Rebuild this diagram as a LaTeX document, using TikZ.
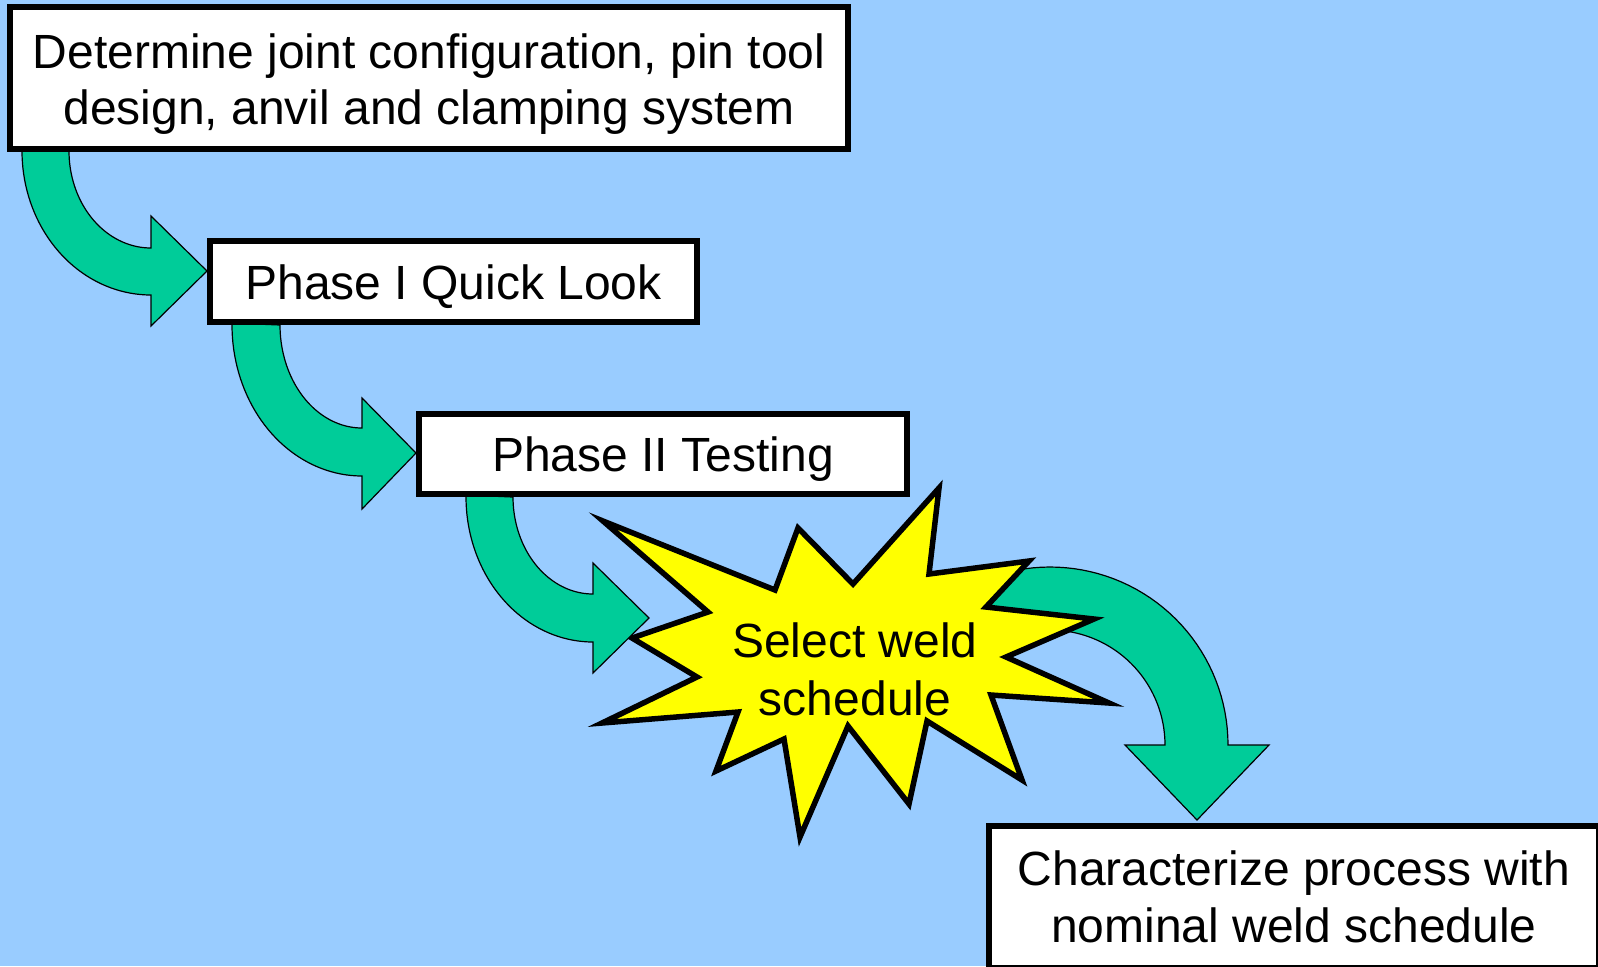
\documentclass[tikz,border=0pt]{standalone}
\usepackage{fontspec}
\setmainfont{Liberation Sans}
\definecolor{skyblue}{HTML}{99CCFF}
\definecolor{flowgreen}{HTML}{00CC99}
\definecolor{burstyellow}{HTML}{FFFF00}

\begin{document}
\begin{tikzpicture}[
    x=0.5pt,y=-0.5pt,
    box/.style={draw=black,line width=3pt,fill=white,inner sep=0pt},
    boxtext/.style={align=center,inner sep=0pt,font=\fontsize{24}{28.4}\selectfont},
    flow/.style={draw=black,line width=0.6pt,fill=flowgreen,line join=miter},
    burst/.style={draw=black,line width=2.75pt,fill=burstyellow,line join=miter},
    bursttext/.style={align=center,inner sep=0pt,font=\fontsize{24}{29}\selectfont}
]
\clip (0,0) rectangle (1598,966);
\fill[skyblue] (0,0) rectangle (1598,966);

% bent arrows between the boxes
\draw[flow] (22,149) -- plot[domain=180:90,samples=40,variable=\t] ({151+129*cos(\t)},{151+144*sin(\t)})
    -- (151,326) -- (207,271) -- (151,216) -- (151,248)
    -- plot[domain=90:180,samples=40,variable=\t] ({151+82*cos(\t)},{151+97*sin(\t)}) -- cycle;
\draw[flow] (232,323) -- plot[domain=180:90,samples=40,variable=\t] ({362+130*cos(\t)},{325+151*sin(\t)})
    -- (362,509) -- (416,453) -- (362,398) -- (362,428)
    -- plot[domain=90:180,samples=40,variable=\t] ({362+82*cos(\t)},{325+103*sin(\t)}) -- cycle;

\node[box,minimum width=419pt,minimum height=71pt,
    label={[boxtext,yshift=-3pt]center:Determine joint configuration, pin tool\\design, anvil and clamping system}]
    (config) at (429,78) {};
\node[box,minimum width=243.5pt,minimum height=40.5pt,
    label={[boxtext,yshift=-2.5pt]center:Phase I Quick Look}] (quick) at (453.5,281.5) {};

% arrow out of the burst, partly behind it
\draw[flow] plot[domain=-130:0,samples=50,variable=\t] ({1050+178*cos(\t)},{745+178*sin(\t)})
    -- (1269,745) -- (1197,820) -- (1125,745)
    -- plot[domain=0:-130,samples=50,variable=\t] ({1050+115*cos(\t)},{745+115*sin(\t)}) -- cycle;

\draw[burst] (603,521) -- (775,590) -- (798,528) -- (853,584) -- (939,488) -- (929,574)
    -- (1029,561) -- (986,607) -- (1094,619) -- (1006,657) -- (1109,703) -- (991,695)
    -- (1022,780) -- (927,721) -- (909,804) -- (848,726) -- (800,837) -- (784,739)
    -- (716,771) -- (738,712) -- (602,723) -- (697,677) -- (632,638) -- (708,612) -- cycle;
\node[bursttext] (select) at (855,669) {Select weld\\schedule};

\draw[flow] (466,495) -- plot[domain=180:90,samples=40,variable=\t] ({593+127*cos(\t)},{497+145*sin(\t)})
    -- (593,673) -- (649,618) -- (593,563) -- (593,594)
    -- plot[domain=90:180,samples=40,variable=\t] ({593+80*cos(\t)},{497+97*sin(\t)}) -- cycle;
\node[box,minimum width=244pt,minimum height=40pt,
    label={[boxtext,yshift=-2.5pt]center:Phase II Testing}] (testing) at (663,454) {};

\node[box,minimum width=305pt,minimum height=71pt,
    label={[boxtext]center:Characterize process with\\nominal weld schedule}] (nominal) at (1294,897) {};
\end{tikzpicture}
\end{document}
